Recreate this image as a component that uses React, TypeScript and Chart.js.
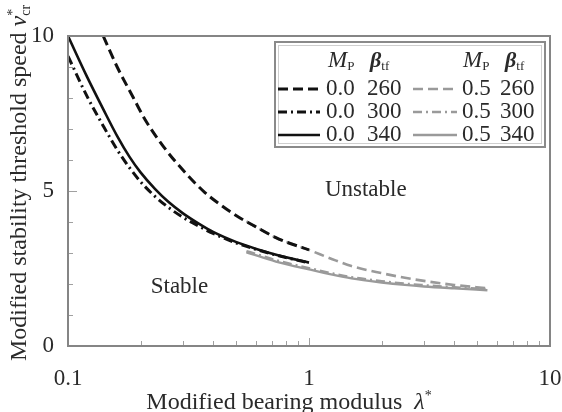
import React, { useEffect, useRef } from "react";
import { Chart, registerables } from "chart.js";

Chart.register(...registerables);

// Modified bearing modulus λ* (x) against modified stability threshold speed v*cr (y)
const lamP0B260 = [0.14, 0.16, 0.187, 0.209, 0.249, 0.31, 0.37, 0.43, 0.5, 0.6, 0.75, 1.0];
const vP0B260 = [10, 9.0, 8.0, 7.3, 6.43, 5.55, 4.95, 4.55, 4.2, 3.85, 3.45, 3.1];

const lamP0 = [0.1, 0.12, 0.14, 0.16, 0.18, 0.2, 0.23, 0.26, 0.3, 0.35, 0.4, 0.5, 0.6, 0.75, 1.0];
const vP0B300 = [9.35, 8.05, 7.1, 6.33, 5.75, 5.3, 4.82, 4.48, 4.15, 3.86, 3.63, 3.32, 3.12, 2.91, 2.68];
const vP0B340 = [10, 8.68, 7.64, 6.77, 6.1, 5.6, 5.06, 4.66, 4.28, 3.94, 3.68, 3.35, 3.14, 2.92, 2.69];

const lamP5 = [0.55, 0.6, 0.75, 1.0, 1.25, 1.5, 2, 2.5, 3, 4, 5.5];
const vP5B260 = [4.02, 3.85, 3.45, 3.1, 2.8, 2.58, 2.35, 2.2, 2.1, 1.97, 1.86];
const vP5B300 = [3.06, 2.97, 2.74, 2.51, 2.34, 2.22, 2.09, 2.01, 1.96, 1.89, 1.83];
const vP5B340 = [3.02, 2.93, 2.7, 2.47, 2.3, 2.18, 2.05, 1.97, 1.92, 1.86, 1.8];

const mpLabels = ["0.0", "0.0", "0.0", "0.5", "0.5", "0.5"];
const betaLabels = ["260", "300", "340", "260", "300", "340"];

const xTickValues = [0.1, 1, 10];
const xTickLabels = ["0.1", "1", "10"];

const SERIF = '"Liberation Serif", "Times New Roman", serif';
const FS = 23;
const TITLE_FS = 24;
const TEXT = "#2a2a2a";
const BLACK = "#111111";
const GREY = "#9a9a9a";

const DASH = [10, 5];
const DASHDOT = [9, 4, 2, 4];

const pts = (xs: number[], ys: number[]) => xs.map((x, i) => ({ x, y: ys[i] }));

type Seg = { t: string; font: string; dy?: number; stackNext?: boolean };

function drawSegs(ctx: CanvasRenderingContext2D, segs: Seg[], x0: number, y0: number, center: boolean) {
  const widths = segs.map((s) => {
    ctx.font = s.font;
    return ctx.measureText(s.t).width;
  });
  let total = 0;
  segs.forEach((s, i) => {
    if (s.stackNext) return;
    total += widths[i];
  });
  let x = center ? x0 - total / 2 : x0;
  segs.forEach((s, i) => {
    ctx.font = s.font;
    ctx.fillText(s.t, x, y0 + (s.dy || 0));
    if (!s.stackNext) x += widths[i];
  });
}

const decorPlugin = {
  id: "decor",
  afterDatasetsDraw(chart: any) {
    const { ctx, chartArea: a, scales } = chart;
    const xs = scales.x;
    const ys = scales.y;
    ctx.save();

    // inward minor ticks
    ctx.strokeStyle = "#a0a0a0";
    ctx.lineWidth = 1;
    for (let v = 1; v < 10; v++) {
      const py = Math.round(ys.getPixelForValue(v)) + 0.5;
      ctx.beginPath();
      ctx.moveTo(a.left, py);
      ctx.lineTo(a.left + (v === 5 ? 9 : 5), py);
      ctx.stroke();
    }
    for (const dec of [0.1, 1]) {
      for (let k = 2; k < 10; k++) {
        const px = Math.round(xs.getPixelForValue(dec * k)) + 0.5;
        ctx.beginPath();
        ctx.moveTo(px, a.bottom);
        ctx.lineTo(px, a.bottom - 5);
        ctx.stroke();
      }
    }
    const px1 = Math.round(xs.getPixelForValue(1)) + 0.5;
    ctx.beginPath();
    ctx.moveTo(px1, a.bottom);
    ctx.lineTo(px1, a.bottom - 8);
    ctx.stroke();

    // frame
    ctx.strokeStyle = "#858585";
    ctx.lineWidth = 2;
    ctx.strokeRect(a.left, a.top, a.right - a.left, a.bottom - a.top);

    // region labels
    ctx.fillStyle = TEXT;
    ctx.textAlign = "center";
    ctx.textBaseline = "middle";
    ctx.font = `${FS}px ${SERIF}`;
    ctx.fillText("Unstable", xs.getPixelForValue(1.72), ys.getPixelForValue(5.03));
    ctx.fillText("Stable", xs.getPixelForValue(0.29), ys.getPixelForValue(1.9));

    // legend
    const bx = a.right - 275;
    const by = a.top + 6;
    const bw = 270;
    const bh = 105;
    ctx.fillStyle = "#ffffff";
    ctx.fillRect(bx, by, bw, bh);
    ctx.strokeStyle = "#8a8a8a";
    ctx.lineWidth = 2;
    ctx.strokeRect(bx, by, bw, bh);
    ctx.strokeStyle = "#cfcfcf";
    ctx.lineWidth = 1;
    ctx.strokeRect(bx + 3.5, by + 3.5, bw - 7, bh - 7);

    ctx.textAlign = "left";
    ctx.textBaseline = "middle";
    ctx.fillStyle = TEXT;
    const headY = by + 19;
    const big = `italic ${FS}px ${SERIF}`;
    const bigB = `italic bold ${FS - 1}px ${SERIF}`;
    const small = `13px ${SERIF}`;
    for (const cx of [bx + 53, bx + 188]) {
      drawSegs(ctx, [
        { t: "M", font: big },
        { t: "P", font: small, dy: 6 },
      ], cx, headY, false);
    }
    for (const cx of [bx + 95, bx + 230]) {
      drawSegs(ctx, [
        { t: "β", font: bigB },
        { t: "tf", font: small, dy: 6 },
      ], cx, headY, false);
    }

    const rowsY = [by + 47, by + 70, by + 93];
    const ds = chart.data.datasets;
    ds.forEach((d: any, i: number) => {
      const col = i < 3 ? 0 : 1;
      const ry = rowsY[i % 3];
      const lx0 = col === 0 ? bx + 3 : bx + 138;
      const lx1 = col === 0 ? bx + 45 : bx + 182;
      ctx.save();
      ctx.strokeStyle = d.borderColor;
      ctx.lineWidth = d.borderWidth;
      ctx.setLineDash(d.borderDash || []);
      ctx.beginPath();
      ctx.moveTo(lx0, ry);
      ctx.lineTo(lx1, ry);
      ctx.stroke();
      ctx.restore();
      ctx.fillStyle = TEXT;
      ctx.font = `${FS}px ${SERIF}`;
      ctx.fillText(mpLabels[i], col === 0 ? bx + 51 : bx + 187, ry);
      ctx.fillText(betaLabels[i], col === 0 ? bx + 92 : bx + 225, ry);
    });

    // axis titles
    ctx.fillStyle = TEXT;
    ctx.textAlign = "left";
    ctx.textBaseline = "alphabetic";
    const norm = `${TITLE_FS}px ${SERIF}`;
    const ital = `italic ${TITLE_FS}px ${SERIF}`;
    const sub = `14px ${SERIF}`;
    drawSegs(ctx, [
      { t: "Modified bearing modulus  ", font: norm },
      { t: "λ", font: ital },
      { t: "*", font: sub, dy: -9 },
    ], 289, 409, true);

    ctx.save();
    ctx.translate(26, 183);
    ctx.rotate(-Math.PI / 2);
    drawSegs(ctx, [
      { t: "Modified stability threshold speed ", font: norm },
      { t: "v", font: ital },
      { t: "*", font: sub, dy: -9, stackNext: true },
      { t: "cr", font: sub, dy: 4 },
    ], 0, 0, true);
    ctx.restore();

    ctx.restore();
  },
};

// keep the plot area fixed: tick labels must not push the edges inward
const clearPadding = (s: any) => {
  s.paddingLeft = 0;
  s.paddingRight = 0;
  s.paddingTop = 0;
  s.paddingBottom = 0;
};

export default function App() {
  const ref = useRef<HTMLCanvasElement | null>(null);

  useEffect(() => {
    document.body.style.margin = "0";
    const canvas = ref.current;
    if (!canvas) return;

    const line = (data: any[], color: string, width: number, dash: number[]) => ({
      data,
      borderColor: color,
      backgroundColor: color,
      borderWidth: width,
      borderDash: dash,
      pointRadius: 0,
      fill: false,
      cubicInterpolationMode: "monotone" as const,
    });

    const chart = new Chart(canvas, {
      type: "line",
      data: {
        datasets: [
          line(pts(lamP0B260, vP0B260), BLACK, 3, DASH),
          line(pts(lamP0, vP0B300), BLACK, 3, DASHDOT),
          line(pts(lamP0, vP0B340), BLACK, 2.6, []),
          line(pts(lamP5, vP5B260), GREY, 2.6, DASH),
          line(pts(lamP5, vP5B300), GREY, 2.6, DASHDOT),
          line(pts(lamP5, vP5B340), GREY, 2.4, []),
        ],
      },
      options: {
        responsive: false,
        animation: false,
        events: [],
        layout: { padding: { top: 36, right: 12, left: 0, bottom: 0 } },
        plugins: {
          legend: { display: false },
          tooltip: { enabled: false },
          title: { display: false },
        },
        scales: {
          x: {
            type: "logarithmic",
            min: 0.1,
            max: 10,
            afterBuildTicks: (s: any) => {
              s.ticks = xTickValues.map((value) => ({ value }));
            },
            afterFit: (s: any) => {
              s.height = 66;
              clearPadding(s);
            },
            ticks: {
              autoSkip: false,
              maxRotation: 0,
              padding: 19,
              color: TEXT,
              font: { family: SERIF, size: FS },
              callback: (v: any) => {
                const i = xTickValues.indexOf(Number(v));
                return i >= 0 ? xTickLabels[i] : "";
              },
            },
            grid: { display: false, drawTicks: false, tickLength: 0 },
            border: { display: false },
          },
          y: {
            type: "linear",
            min: 0,
            max: 10,
            afterFit: (s: any) => {
              s.width = 68;
              clearPadding(s);
            },
            ticks: {
              stepSize: 5,
              padding: 14,
              color: TEXT,
              font: { family: SERIF, size: FS },
            },
            grid: { display: false, drawTicks: false, tickLength: 0 },
            border: { display: false },
          },
        },
      },
      plugins: [decorPlugin],
    });

    return () => chart.destroy();
  }, []);

  return <canvas ref={ref} width={562} height={412} style={{ display: "block" }} />;
}
